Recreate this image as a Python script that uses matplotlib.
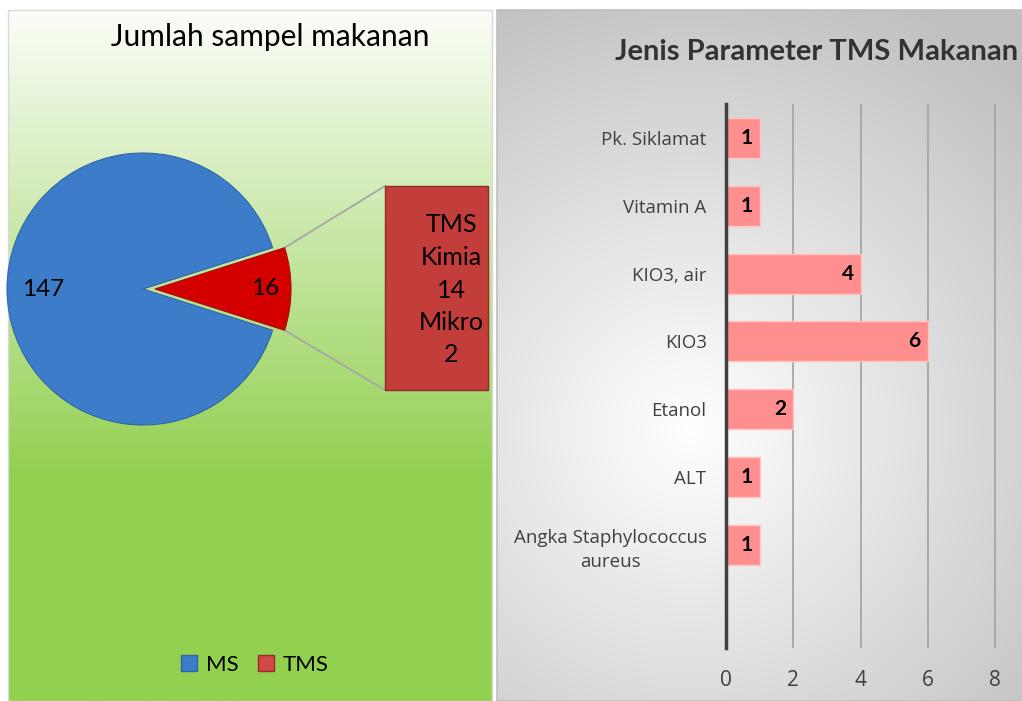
import numpy as np
import matplotlib
matplotlib.use("Agg")
import matplotlib.pyplot as plt
from matplotlib.patches import Rectangle, Patch
from matplotlib.colors import to_rgb

# data
pie_labels = ["MS", "TMS"]
pie_values = [147, 16]
tms_detail = ["TMS", "Kimia", "14", "Mikro", "2"]

params = ["Pk. Siklamat", "Vitamin A", "KIO3, air", "KIO3", "Etanol", "ALT",
          "Angka Staphylococcus\naureus"]
param_counts = [1, 1, 4, 6, 2, 1, 1]
x_ticks = [0, 2, 4, 6, 8]

W, H = 1022, 701
fig = plt.figure(figsize=(W / 100, H / 100), dpi=100)
bg = fig.add_axes([0, 0, 1, 1])

# left panel: white -> green vertical gradient
top = np.array(to_rgb("#fbfdf8"))
bot = np.array(to_rgb("#92d050"))
t = np.clip(np.linspace(0, 1, 300) / 0.68, 0, 1)
grad = top[None, :] * (1 - t[:, None]) + bot[None, :] * t[:, None]
bg.imshow(grad[:, None, :], extent=[8, 492, 0, 691], aspect="auto", zorder=0)
bg.add_patch(Rectangle((8, 0), 484, 691, fill=False, ec="#d9d9d9", lw=1, zorder=1))

# right panel: grey radial gradient
xx, yy = np.meshgrid(np.linspace(497, 1022, 260), np.linspace(691, 0, 340))
r = np.clip(np.hypot(xx - 690, yy - (H - 430)) / 480, 0, 1)
light = np.array(to_rgb("#ffffff"))
dark = np.array(to_rgb("#c0c0c0"))
img = light * (1 - r[..., None]) + dark * r[..., None]
bg.imshow(img, extent=[497, 1022, 0, 691], aspect="auto", zorder=0)
bg.add_patch(Rectangle((497, 0), 530, 691, fill=False, ec="#bfbfbf", lw=1.2, zorder=1))

# pie
cx, cy, R = 143, H - 289, 136
start = 180 * pie_values[1] / sum(pie_values)
wedges, _ = bg.pie(pie_values, colors=["#3d7cc9", "#d40000"], startangle=start,
                   explode=[0, 12], center=(cx, cy), radius=R,
                   wedgeprops=dict(edgecolor="#2f65a8", lw=0.8, zorder=3))
wedges[1].set_edgecolor("#9c1010")
for w, val, d in zip(wedges, pie_values, [0.735, 0.81]):
    th = np.deg2rad((w.theta1 + w.theta2) / 2)
    wx, wy = w.center
    bg.text(wx + d * R * np.cos(th), wy + d * R * np.sin(th), str(val),
            ha="center", va="center", fontsize=17.5, family="Lato", color="black", zorder=4)

# exploded detail box with connector lines
bx0, bx1, by0, by1 = 385, 488, H - 390, H - 186
tw = wedges[1]
for ang, by in [(tw.theta2, by1), (tw.theta1, by0)]:
    a = np.deg2rad(ang)
    px, py = tw.center[0] + R * np.cos(a), tw.center[1] + R * np.sin(a)
    bg.plot([px, bx0], [py, by], color="#a6a6a6", lw=1.3, zorder=2)
bg.add_patch(Rectangle((bx0, by0), bx1 - bx0, by1 - by0, fc="#c33d3b", ec="#8e2a28",
                       lw=1, zorder=3))
bg.text(451, H - 290, "\n".join(tms_detail), ha="center", va="center", fontsize=18,
        family="Lato", linespacing=1.5, zorder=4)

bg.text(270, H - 37, "Jumlah sampel makanan", ha="center", va="center", fontsize=21.5,
        family="Lato", color="black")
bg.text(817, H - 52, "Jenis Parameter TMS Makanan", ha="center", va="center", fontsize=21,
        family="Lato", fontweight="bold", color="#333333")

bg.set_xlim(0, W)
bg.set_ylim(0, H)
bg.set_aspect("auto")
bg.axis("off")

fig.legend(handles=[Patch(fc="#3d7cc9", ec="#2f65a8"), Patch(fc="#d04848", ec="#9c2a2a")],
           labels=pie_labels, loc="center", bbox_to_anchor=(255 / W, 1 - 665 / H), ncol=2,
           frameon=False, prop={"family": "Lato", "size": 16}, handlelength=0.7,
           handleheight=0.7, columnspacing=0.9, handletextpad=0.4)

# bar chart
xmax = 8.05
ax = fig.add_axes([726 / W, 1 - 648 / H, (995 - 726) * xmax / 8 / W, (648 - 104) / H])
ax.patch.set_alpha(0)
ypos = np.arange(len(params))
ax.barh(ypos, param_counts, height=0.59, color="#ff8f8f", edgecolor="#ffc4c4", lw=1, zorder=3)
for yi, v in zip(ypos, param_counts):
    ax.annotate(str(v), (v, yi), xytext=(-5, 0), textcoords="offset points", ha="right",
                va="center", fontsize=15, fontweight="bold", family="Lato", zorder=4)
ax.set_xlim(0, xmax)
ax.set_ylim(7.52, -0.5)
ax.set_xticks(x_ticks)
ax.set_yticks(ypos, params)
ax.grid(axis="x", color="#a6a6a6", lw=1.3, zorder=0)
for lbl in ax.get_yticklabels():
    lbl.set_multialignment("center")
    lbl.set_linespacing(1.45)
    lbl.set_family("Open Sans")
for lbl in ax.get_xticklabels():
    lbl.set_family("Open Sans")
ax.tick_params(axis="both", length=0, labelcolor="#404040")
ax.tick_params(axis="x", pad=16, labelsize=15)
ax.tick_params(axis="y", pad=14, labelsize=13.5)
for s in ["top", "right", "bottom"]:
    ax.spines[s].set_visible(False)
ax.spines["left"].set_color("#404040")
ax.spines["left"].set_linewidth(2.5)
ax.spines["left"].set_zorder(5)

fig.savefig("out.png", dpi=100)
